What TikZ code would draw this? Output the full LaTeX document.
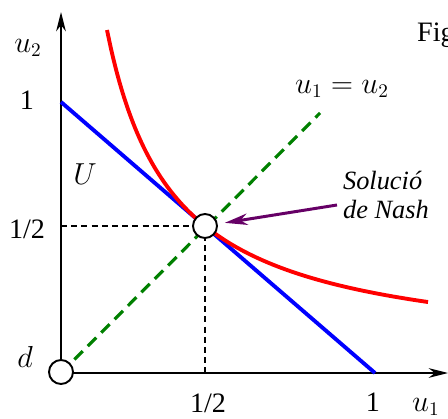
\documentclass[tikz,border=0pt]{standalone}
\usepackage{fontspec}
\setmainfont{Liberation Serif}
\usetikzlibrary{arrows.meta}
\tikzset{
  axis/.style={line width=1.1pt, draw=black, -{Stealth[length=11pt, width=5.5pt, inset=3.5pt]}},
  guide/.style={line width=0.6pt, draw=black, dash pattern=on 3.4pt off 2.4pt},
  diag/.style={line width=1.8pt, draw=green!50!black, dash pattern=on 6.8pt off 4pt},
  frontier/.style={line width=2.2pt, draw=blue},
  level/.style={line width=2.2pt, draw=red},
  pointer/.style={line width=1.7pt, draw=violet!80!black, -{Stealth[length=13pt, width=6.5pt, inset=4pt]}, shorten >=4pt},
  dot/.style={circle, draw=black, fill=white, line width=1.1pt, minimum size=0.48cm, inner sep=0pt},
  lbl/.style={font=\fontsize{16}{19}\selectfont, inner sep=1pt},
  note/.style={font=\fontsize{15}{16.5}\selectfont\itshape, align=left, inner sep=1pt},
}
\begin{document}
\begin{tikzpicture}[x=0.02cm, y=0.02cm]
\useasboundingbox (0,0) rectangle (448,418);
% corners and ends
\coordinate (o) at (61,45);
\coordinate (xend) at (448,45);
\coordinate (yend) at (61,406);
\coordinate (b1) at (61,316);
\coordinate (b2) at (375,45);
\coordinate (g2) at (320,305);
\coordinate (h0) at (61,192);
\coordinate (v0) at (205,45);
\coordinate (tail) at (337,213);
% axes
\draw[axis] (o) -- (xend);
\draw[axis] (o) -- (yend);
% guides
\draw[diag] (o) -- (g2);
\draw[guide] (h0) -- (205,192) -- (v0);
% frontier and level curve
\draw[frontier] (b1) -- (b2);
\draw[level] plot[domain=107:428, samples=80, smooth] (\x, {60.1+216.2/(\x-41.06)*100});
% points
\node[dot] (d0) at (61,46) {};
\node[dot] (nash) at (205,192) {};
% labels
\node[lbl] (u2) at (28,370) {$u_2$};
\node[lbl] (one2) at (27,318) {1};
\node[lbl] (reg) at (85,244) {$U$};
\node[lbl] (half2) at (27,189) {1/2};
\node[lbl] (dlab) at (25,61) {$d$};
\node[lbl] (half1) at (208,15) {1/2};
\node[lbl] (one1) at (373,16) {1};
\node[lbl, anchor=west] (u1) at (410,11) {$u_1$};
\node[lbl] (diaglab) at (342,329) {$u_1=u_2$};
\node[lbl, anchor=west] (fig) at (415,383) {Fig};
\node[note, anchor=west] (sol) at (341,223) {Soluci\'o\\de Nash};
\draw[pointer] (tail) -- (nash);
\end{tikzpicture}
\end{document}
